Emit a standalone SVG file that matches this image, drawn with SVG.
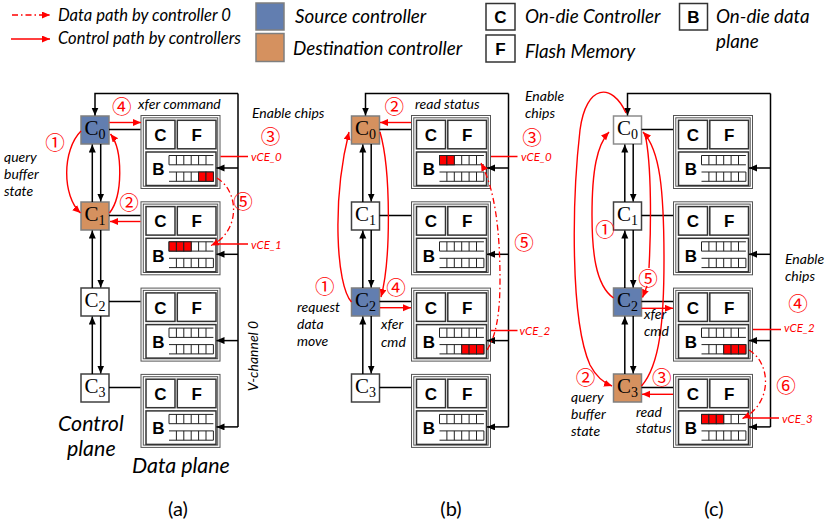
<svg xmlns="http://www.w3.org/2000/svg" xmlns:xlink="http://www.w3.org/1999/xlink" width="829" height="525" viewBox="0 0 829 525">
<style>
.t{font-family:Lato,'Liberation Sans',sans-serif;font-style:italic;fill:#000}
.s14{font-size:14px}
.s16{font-size:16.6px}
.s17{font-size:18.8px}
.s20{font-size:21.4px}
.vce{font-family:Lato,'Liberation Sans',sans-serif;font-style:italic;font-size:11.5px;fill:#f00}
.num{font-family:'Noto Sans CJK SC',sans-serif;font-size:19.5px;fill:#f00;text-anchor:middle;dominant-baseline:central}
.blk{stroke:#000;stroke-width:1.5;fill:none}
.red{stroke:#f00;stroke-width:1.4;fill:none}
.dd{stroke:#f00;stroke-width:1.3;fill:none;stroke-dasharray:6 3 1.5 3}
.cbox{fill:#fff;stroke:#404040;stroke-width:1.5}
.src{fill:#627EB0;stroke:#7F7F7F}
.dst{fill:#D5915F;stroke:#7F7F7F}
.lite{stroke:#8C8C8C}
.ct{font-family:'Liberation Serif',serif;font-size:21px;text-anchor:middle;fill:#000}
.bl{font-family:'Liberation Sans',sans-serif;font-weight:bold;font-size:17px;text-anchor:middle;fill:#000}
.ib{fill:#fff;stroke:#333;stroke-width:1.5}
.ob{fill:none;stroke:#555;stroke-width:1}
.buf{fill:none;stroke:#222;stroke-width:1}
.full{fill:#f00;stroke:#222;stroke-width:1}
.lab{font-family:Lato,'Liberation Sans',sans-serif;font-size:20px;text-anchor:middle;fill:#000}
</style>
<defs>
<marker id="ab" markerUnits="userSpaceOnUse" markerWidth="9" markerHeight="8" refX="8" refY="3.5" orient="auto"><path d="M0,0 L8,3.5 L0,7 z" fill="#000"/></marker>
<marker id="ar" markerUnits="userSpaceOnUse" markerWidth="9" markerHeight="8" refX="8" refY="3.5" orient="auto"><path d="M0,0 L8,3.5 L0,7 z" fill="#f00"/></marker>
<g id="chip">
<rect x="0.5" y="0.5" width="79" height="73" fill="#fff" stroke="#555" stroke-width="1"/>
<rect class="ob" x="2.8" y="2.8" width="74.4" height="68.4"/>
<rect class="ib" x="5.5" y="5.3" width="29" height="28.5"/>
<rect class="ib" x="36.8" y="5.3" width="38.7" height="28.5"/>
<rect class="ib" x="5.5" y="37" width="70" height="33.5"/>
<text class="bl" x="20" y="26">C</text>
<text class="bl" x="56.2" y="26">F</text>
<text class="bl" x="17.8" y="60.3">B</text>
<path class="buf" d="M28.5,40.5H72.9M28.5,49.8H72.9M28.5,40.5V49.8M35.9,40.5V49.8M43.3,40.5V49.8M50.7,40.5V49.8M58.1,40.5V49.8M65.5,40.5V49.8M28.5,57H72.9M28.5,66.3H72.9M35.9,57V66.3M43.3,57V66.3M50.7,57V66.3M58.1,57V66.3M65.5,57V66.3M72.9,57V66.3"/>
</g>
</defs>
<rect width="829" height="525" fill="#fff"/>

<g id="legend">
<path class="dd" d="M12,15H50" marker-end="url(#ar)"/>
<text class="t s16" x="58" y="20.5">Data path by controller 0</text>
<path class="red" d="M11,39H50" marker-end="url(#ar)"/>
<text class="t s16" x="58" y="44">Control path by controllers</text>
<rect x="256" y="3" width="28" height="27" fill="#627EB0" stroke="#7F7F7F" stroke-width="1.5"/>
<rect x="256" y="33.5" width="28" height="28" fill="#D5915F" stroke="#7F7F7F" stroke-width="1.5"/>
<text class="t s17" x="295" y="23">Source controller</text>
<text class="t s17" x="293" y="54.5">Destination controller</text>
<rect class="ib" x="486" y="3.5" width="29" height="26.5"/>
<text class="bl" x="500.5" y="23">C</text>
<rect class="ib" x="486" y="35" width="29" height="27"/>
<text class="bl" x="500.5" y="55">F</text>
<rect class="ib" x="679.5" y="3.5" width="28" height="26.5"/>
<text class="bl" x="693.5" y="23">B</text>
<text class="t s17" x="525" y="23">On-die Controller</text>
<text class="t s17" x="525" y="58">Flash Memory</text>
<text class="t s17" x="716" y="23">On-die data</text>
<text class="t s17" x="716" y="47.5">plane</text>
</g>

<!-- Panel (a) nodes -->
<g id="a-c0" transform="translate(81,116)"><rect class="cbox src" width="28" height="28"/><text class="ct" x="14" y="18.5">C<tspan font-size="14" dy="4">0</tspan></text></g>
<g id="a-c1" transform="translate(81,202)"><rect class="cbox dst" width="28" height="28"/><text class="ct" x="14" y="18.5">C<tspan font-size="14" dy="4">1</tspan></text></g>
<g id="a-c2" transform="translate(81,288)"><rect class="cbox" width="28" height="28"/><text class="ct" x="14" y="18.5">C<tspan font-size="14" dy="4">2</tspan></text></g>
<g id="a-c3" transform="translate(81,374)"><rect class="cbox" width="28" height="28"/><text class="ct" x="14" y="18.5">C<tspan font-size="14" dy="4">3</tspan></text></g>
<g id="a-chip0" transform="translate(140.5,115)"><use href="#chip"/><rect class="full" x="58.1" y="57" width="7.4" height="9.3"/><rect class="full" x="65.5" y="57" width="7.4" height="9.3"/></g>
<g id="a-chip1" transform="translate(140.5,201.3)"><use href="#chip"/><rect class="full" x="28.5" y="40.5" width="7.4" height="9.3"/><rect class="full" x="35.9" y="40.5" width="7.4" height="9.3"/><rect class="full" x="43.3" y="40.5" width="7.4" height="9.3"/></g>
<g id="a-chip2" transform="translate(140.5,287.6)"><use href="#chip"/></g>
<g id="a-chip3" transform="translate(140.5,373.9)"><use href="#chip"/></g>

<!-- Panel (b) nodes -->
<g id="b-c0" transform="translate(351.5,116)"><rect class="cbox dst" width="28" height="28"/><text class="ct" x="14" y="18.5">C<tspan font-size="14" dy="4">0</tspan></text></g>
<g id="b-c1" transform="translate(351.5,202)"><rect class="cbox" width="28" height="28"/><text class="ct" x="14" y="18.5">C<tspan font-size="14" dy="4">1</tspan></text></g>
<g id="b-c2" transform="translate(351.5,288)"><rect class="cbox src" width="28" height="28"/><text class="ct" x="14" y="18.5">C<tspan font-size="14" dy="4">2</tspan></text></g>
<g id="b-c3" transform="translate(351.5,374)"><rect class="cbox" width="28" height="28"/><text class="ct" x="14" y="18.5">C<tspan font-size="14" dy="4">3</tspan></text></g>
<g id="b-chip0" transform="translate(411,115)"><use href="#chip"/><rect class="full" x="28.5" y="40.5" width="7.4" height="9.3"/><rect class="full" x="35.9" y="40.5" width="7.4" height="9.3"/></g>
<g id="b-chip1" transform="translate(411,201.3)"><use href="#chip"/></g>
<g id="b-chip2" transform="translate(411,287.6)"><use href="#chip"/><rect class="full" x="50.7" y="57" width="7.4" height="9.3"/><rect class="full" x="58.1" y="57" width="7.4" height="9.3"/><rect class="full" x="65.5" y="57" width="7.4" height="9.3"/></g>
<g id="b-chip3" transform="translate(411,373.9)"><use href="#chip"/></g>

<!-- Panel (c) nodes -->
<g id="c-c0" transform="translate(613.5,116)"><rect class="cbox lite" width="28" height="28"/><text class="ct" x="14" y="18.5">C<tspan font-size="14" dy="4">0</tspan></text></g>
<g id="c-c1" transform="translate(613.5,202)"><rect class="cbox" width="28" height="28"/><text class="ct" x="14" y="18.5">C<tspan font-size="14" dy="4">1</tspan></text></g>
<g id="c-c2" transform="translate(613.5,288)"><rect class="cbox src" width="28" height="28"/><text class="ct" x="14" y="18.5">C<tspan font-size="14" dy="4">2</tspan></text></g>
<g id="c-c3" transform="translate(613.5,374)"><rect class="cbox dst" width="28" height="28"/><text class="ct" x="14" y="18.5">C<tspan font-size="14" dy="4">3</tspan></text></g>
<g id="c-chip0" transform="translate(673,115)"><use href="#chip"/></g>
<g id="c-chip1" transform="translate(673,201.3)"><use href="#chip"/></g>
<g id="c-chip2" transform="translate(673,287.6)"><use href="#chip"/><rect class="full" x="50.7" y="57" width="7.4" height="9.3"/><rect class="full" x="58.1" y="57" width="7.4" height="9.3"/><rect class="full" x="65.5" y="57" width="7.4" height="9.3"/></g>
<g id="c-chip3" transform="translate(673,373.9)"><use href="#chip"/><rect class="full" x="28.5" y="40.5" width="7.4" height="9.3"/><rect class="full" x="35.9" y="40.5" width="7.4" height="9.3"/><rect class="full" x="43.3" y="40.5" width="7.4" height="9.3"/></g>

<g id="connectors">
<!-- (a) black -->
<path class="blk" d="M238,93.5V427"/>
<path class="blk" d="M238,93.5H95V115.5" marker-end="url(#ab)"/>
<path class="blk" d="M238,168H216.5" marker-end="url(#ab)"/>
<path class="blk" d="M238,254.3H216.5" marker-end="url(#ab)"/>
<path class="blk" d="M238,340.6H216.5" marker-end="url(#ab)"/>
<path class="blk" d="M238,426.9H216.5" marker-end="url(#ab)"/>
<path class="blk" d="M109,129.5H140.5M109,215.5H140.5M109,301.5H140.5M109,387.5H140.5"/>
<path class="blk" d="M92.3,202V144.5" marker-end="url(#ab)"/>
<path class="blk" d="M100.7,144V201.5" marker-end="url(#ab)"/>
<path class="blk" d="M92.3,288V230.5" marker-end="url(#ab)"/>
<path class="blk" d="M100.7,230V287.5" marker-end="url(#ab)"/>
<path class="blk" d="M92.3,374V316.5" marker-end="url(#ab)"/>
<path class="blk" d="M100.7,316V373.5" marker-end="url(#ab)"/>
<!-- (a) red -->
<path class="red" d="M81,131C62,150 62,196 80.5,213" marker-end="url(#ar)"/>
<path class="red" d="M109.5,213C123,196 123,150 110.5,134" marker-end="url(#ar)"/>
<path class="red" d="M109.5,122.5H141" marker-end="url(#ar)"/>
<path class="red" d="M140.5,221.5H110" marker-end="url(#ar)"/>
<path class="dd" d="M217,178C240,192 240,232 211,245.5" marker-end="url(#ar)"/>
<path class="red" d="M220.5,156.5H248M218,244H248"/>

<!-- (b) black -->
<path class="blk" d="M508.5,93.5V427"/>
<path class="blk" d="M508.5,93.5H365.5V115.5" marker-end="url(#ab)"/>
<path class="blk" d="M508.5,168H487" marker-end="url(#ab)"/>
<path class="blk" d="M508.5,254.3H487" marker-end="url(#ab)"/>
<path class="blk" d="M508.5,340.6H487" marker-end="url(#ab)"/>
<path class="blk" d="M508.5,426.9H487" marker-end="url(#ab)"/>
<path class="blk" d="M379.5,129.5H411M379.5,215.5H411M379.5,301.5H411M379.5,387.5H411"/>
<path class="blk" d="M362.8,202V144.5" marker-end="url(#ab)"/>
<path class="blk" d="M371.2,144V201.5" marker-end="url(#ab)"/>
<path class="blk" d="M362.8,288V230.5" marker-end="url(#ab)"/>
<path class="blk" d="M371.2,230V287.5" marker-end="url(#ab)"/>
<path class="blk" d="M362.8,374V316.5" marker-end="url(#ab)"/>
<path class="blk" d="M371.2,316V373.5" marker-end="url(#ab)"/>
<!-- (b) red -->
<path class="red" d="M411,122.5H380" marker-end="url(#ar)"/>
<path class="red" d="M380,307.7H411" marker-end="url(#ar)"/>
<path class="red" d="M351.5,302C336,285 332,200 349,132" marker-end="url(#ar)"/>
<path class="red" d="M380,132C391,170 391,260 381,297" marker-end="url(#ar)"/>
<path class="dd" d="M487,350C497,335 500,310 500,280C500,230 495,190 481,163" marker-end="url(#ar)"/>
<path class="red" d="M491,156.5H517.5M491,330.5H517.5"/>

<!-- (c) black -->
<path class="blk" d="M770.5,93.5V427"/>
<path class="blk" d="M770.5,93.5H627.5V115.5" marker-end="url(#ab)"/>
<path class="blk" d="M770.5,168H749" marker-end="url(#ab)"/>
<path class="blk" d="M770.5,254.3H749" marker-end="url(#ab)"/>
<path class="blk" d="M770.5,340.6H749" marker-end="url(#ab)"/>
<path class="blk" d="M770.5,426.9H749" marker-end="url(#ab)"/>
<path class="blk" d="M641.5,129.5H673M641.5,215.5H673M641.5,301.5H673M641.5,387.5H673"/>
<path class="blk" d="M624.8,202V144.5" marker-end="url(#ab)"/>
<path class="blk" d="M633.2,144V201.5" marker-end="url(#ab)"/>
<path class="blk" d="M624.8,288V230.5" marker-end="url(#ab)"/>
<path class="blk" d="M633.2,230V287.5" marker-end="url(#ab)"/>
<path class="blk" d="M624.8,374V316.5" marker-end="url(#ab)"/>
<path class="blk" d="M633.2,316V373.5" marker-end="url(#ab)"/>
<!-- (c) red -->
<path class="red" d="M613.5,298C595,285 592,250 592,215C592,170 597,145 609,132" marker-end="url(#ar)"/>
<path class="red" d="M626,113C612,82 586,84 580,130C572,200 570,320 590,365C597,378 604,383 612,386" marker-end="url(#ar)"/>
<path class="red" d="M641.5,386C660,365 664,320 664,260C664,190 660,150 643,132" marker-end="url(#ar)"/>
<path class="red" d="M645,134C652,165 651,230 649,268"/>
<path class="red" d="M647,286L642.5,297.5" marker-end="url(#ar)"/>
<path class="red" d="M641.5,308.3H673" marker-end="url(#ar)"/>
<path class="red" d="M673,394.3H642" marker-end="url(#ar)"/>
<path class="dd" d="M749,350C772,364 772,404 742.5,418.5" marker-end="url(#ar)"/>
<path class="red" d="M753,329.5H781M748,418H779"/>
</g>

<g id="labels">
<!-- (a) -->
<text class="num" x="55" y="141">①</text>
<text class="num" x="129" y="201">②</text>
<text class="num" x="270.5" y="135">③</text>
<text class="num" x="121.7" y="105">④</text>
<text class="num" x="243" y="200">⑤</text>
<text class="t s14" x="138" y="109">xfer command</text>
<text class="t s14" x="252" y="118">Enable chips</text>
<text class="t s14" x="4" y="162">query</text>
<text class="t s14" x="4" y="179">buffer</text>
<text class="t s14" x="4" y="196">state</text>
<text class="vce" x="251" y="161">vCE_0</text>
<text class="vce" x="251" y="248.5">vCE_1</text>
<text class="t s14" transform="translate(258,356) rotate(-90)" text-anchor="middle">V-channel 0</text>
<text class="t s20" x="58" y="431">Control</text>
<text class="t s20" x="67" y="456">plane</text>
<text class="t s20" x="132" y="473">Data plane</text>
<text class="lab" x="178" y="516">(a)</text>
<!-- (b) -->
<text class="num" x="324.7" y="285.5">①</text>
<text class="num" x="394.3" y="105">②</text>
<text class="num" x="532" y="136.7">③</text>
<text class="num" x="396" y="286.7">④</text>
<text class="num" x="524" y="241.7">⑤</text>
<text class="t s14" x="415" y="109">read status</text>
<text class="t s14" x="525" y="100.5">Enable</text>
<text class="t s14" x="525" y="117.5">chips</text>
<text class="t s14" x="297" y="312">request</text>
<text class="t s14" x="297" y="329">data</text>
<text class="t s14" x="297" y="346">move</text>
<text class="t s14" x="381" y="329">xfer</text>
<text class="t s14" x="381" y="347">cmd</text>
<text class="vce" x="521" y="161">vCE_0</text>
<text class="vce" x="519.5" y="335">vCE_2</text>
<text class="lab" x="451" y="516">(b)</text>
<!-- (c) -->
<text class="num" x="605" y="228">①</text>
<text class="num" x="585.5" y="376">②</text>
<text class="num" x="661.7" y="376.7">③</text>
<text class="num" x="798" y="302.7">④</text>
<text class="num" x="648" y="277">⑤</text>
<text class="num" x="786" y="384">⑥</text>
<text class="t s14" x="785" y="263.5">Enable</text>
<text class="t s14" x="785" y="281">chips</text>
<text class="t s14" x="571" y="402">query</text>
<text class="t s14" x="571" y="419">buffer</text>
<text class="t s14" x="571" y="436">state</text>
<text class="t s14" x="636" y="416.5">read</text>
<text class="t s14" x="636" y="432.5">status</text>
<text class="t s14" x="644" y="318.5">xfer</text>
<text class="t s14" x="644" y="336">cmd</text>
<text class="vce" x="784" y="332">vCE_2</text>
<text class="vce" x="782" y="422.5">vCE_3</text>
<text class="lab" x="714" y="516">(c)</text>
</g>
</svg>
